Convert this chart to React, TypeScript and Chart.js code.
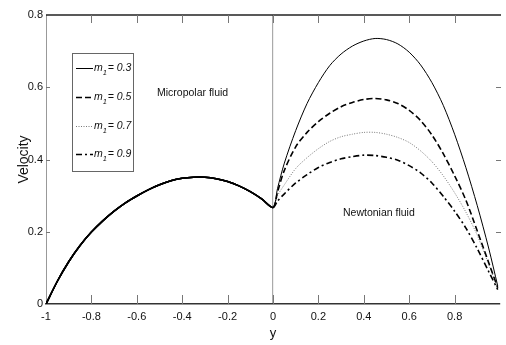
import React, { useEffect, useRef } from "react";
import { Chart, registerables } from "chart.js";

Chart.register(...registerables);

// Micropolar fluid region (-1 <= y <= 0): identical for every m1
const microX = [-1, -0.95, -0.9, -0.85, -0.8, -0.75, -0.7, -0.65, -0.6, -0.55, -0.5, -0.45, -0.4, -0.35, -0.3, -0.25, -0.2, -0.15, -0.1, -0.05, 0];
const microV = [0, 0.063, 0.117, 0.162, 0.199, 0.23, 0.257, 0.28, 0.299, 0.316, 0.33, 0.341, 0.348, 0.351, 0.351, 0.347, 0.339, 0.327, 0.311, 0.291, 0.267];

// Newtonian fluid region (0 <= y <= 1)
const newtX = [0, 0.02, 0.05, 0.1, 0.15, 0.2, 0.25, 0.3, 0.35, 0.4, 0.45, 0.5, 0.55, 0.6, 0.65, 0.7, 0.75, 0.8, 0.85, 0.9, 0.95, 0.99];
const m03 = [0.267, 0.32, 0.39, 0.48, 0.555, 0.613, 0.66, 0.692, 0.714, 0.728, 0.735, 0.732, 0.72, 0.697, 0.662, 0.613, 0.55, 0.47, 0.377, 0.272, 0.155, 0.05];
const m05 = [0.267, 0.31, 0.37, 0.435, 0.475, 0.505, 0.528, 0.546, 0.558, 0.566, 0.569, 0.565, 0.555, 0.536, 0.508, 0.468, 0.416, 0.355, 0.287, 0.202, 0.115, 0.045];
const m07 = [0.267, 0.3, 0.33, 0.375, 0.405, 0.43, 0.45, 0.463, 0.47, 0.475, 0.475, 0.47, 0.461, 0.447, 0.424, 0.394, 0.355, 0.308, 0.254, 0.19, 0.11, 0.045];
const m09 = [0.267, 0.285, 0.305, 0.335, 0.358, 0.378, 0.392, 0.402, 0.408, 0.412, 0.411, 0.406, 0.398, 0.383, 0.363, 0.335, 0.298, 0.257, 0.21, 0.153, 0.09, 0.04];

const seriesLabels = ["0.3", "0.5", "0.7", "0.9"];
const seriesValues = [m03, m05, m07, m09];
const seriesColors = ["#000000", "#000000", "#777777", "#000000"];
const seriesWidths = [1, 1.6, 1, 1.6];
const seriesDash: number[][] = [[], [6, 3], [1, 1.5], [6, 3, 2, 3]];

const xTicks = [-1, -0.8, -0.6, -0.4, -0.2, 0, 0.2, 0.4, 0.6, 0.8];
const yTicks = [0, 0.2, 0.4, 0.6, 0.8];

const FONT = "'Liberation Sans', Arial, sans-serif";

function buildPoints(vals: number[]) {
  const pts = microX.map((x, i) => ({ x, y: microV[i] }));
  newtX.forEach((x, i) => {
    if (i > 0) pts.push({ x, y: vals[i] });
  });
  return pts;
}

const decorPlugin = {
  id: "decor",
  afterDraw(chart: any) {
    const { ctx, chartArea } = chart;
    const { left, right, top, bottom } = chartArea;
    const xs = chart.scales.x;
    const ys = chart.scales.y;
    ctx.save();
    // top frame line
    ctx.strokeStyle = "#222";
    ctx.lineWidth = 1.5;
    ctx.beginPath();
    ctx.moveTo(left, top);
    ctx.lineTo(right + 1, top);
    ctx.stroke();
    // inward ticks
    ctx.strokeStyle = "#777";
    ctx.lineWidth = 1;
    xTicks.forEach((v) => {
      if (v === -1) return;
      const px = Math.round(xs.getPixelForValue(v)) + 0.5;
      ctx.beginPath();
      ctx.moveTo(px, bottom);
      ctx.lineTo(px, bottom - 9);
      ctx.moveTo(px, top);
      ctx.lineTo(px, top + 8);
      ctx.stroke();
    });
    yTicks.forEach((v) => {
      if (v === 0 || v === 0.8) return;
      const py = Math.round(ys.getPixelForValue(v)) + 0.5;
      ctx.beginPath();
      ctx.moveTo(left, py);
      ctx.lineTo(left + 4, py);
      ctx.moveTo(right - 4, py);
      ctx.lineTo(right + 1, py);
      ctx.stroke();
    });
    // region labels
    ctx.fillStyle = "#111";
    ctx.font = `10.5px ${FONT}`;
    ctx.textAlign = "left";
    ctx.textBaseline = "middle";
    ctx.fillText("Micropolar fluid", 157, 93);
    ctx.fillText("Newtonian fluid", 343, 213);
    // legend box
    ctx.strokeStyle = "#666";
    ctx.lineWidth = 1;
    ctx.fillStyle = "#fff";
    ctx.fillRect(72.5, 53.5, 61, 118);
    ctx.strokeRect(72.5, 53.5, 61, 118);
    const rowY = [68, 97, 126, 154];
    seriesLabels.forEach((lab, i) => {
      const y = rowY[i];
      ctx.strokeStyle = seriesColors[i];
      ctx.lineWidth = seriesWidths[i];
      ctx.setLineDash(seriesDash[i]);
      ctx.beginPath();
      ctx.moveTo(76, y + 0.5);
      ctx.lineTo(93, y + 0.5);
      ctx.stroke();
      ctx.setLineDash([]);
      ctx.fillStyle = "#111";
      ctx.textBaseline = "middle";
      ctx.font = `italic 10.5px ${FONT}`;
      ctx.fillText("m", 94, y);
      const mw = ctx.measureText("m").width;
      ctx.font = `italic 7.5px ${FONT}`;
      ctx.fillText("1", 94 + mw, y + 5);
      ctx.font = `italic 10.5px ${FONT}`;
      ctx.fillText("= " + lab, 94 + mw + 5, y);
    });
    ctx.restore();
  },
};

export default function App() {
  const ref = useRef<HTMLCanvasElement | null>(null);
  useEffect(() => {
    if (!ref.current) return;
    const chart = new Chart(ref.current, {
      type: "line",
      data: {
        datasets: seriesLabels.map((lab, i) => ({
          label: "m1 = " + lab,
          data: buildPoints(seriesValues[i]),
          borderColor: seriesColors[i],
          borderWidth: seriesWidths[i],
          borderDash: seriesDash[i],
          pointRadius: 0,
          tension: 0.3,
          fill: false,
          segment: {
            borderDash: (c: any) => (c.p1.parsed.x <= 0 ? [] : undefined),
            borderWidth: (c: any) => (c.p1.parsed.x <= 0 ? 1.5 : undefined),
            borderColor: (c: any) => (c.p1.parsed.x <= 0 ? "#000000" : undefined),
          },
        })),
      },
      plugins: [decorPlugin],
      options: {
        animation: false,
        responsive: false,
        maintainAspectRatio: false,
        layout: { padding: { top: 15, right: 1, left: 0, bottom: 0 } },
        plugins: { legend: { display: false }, tooltip: { enabled: false } },
        scales: {
          x: {
            type: "linear",
            min: -1,
            max: 1,
            afterFit: (s: any) => { s.height = 41; },
            afterBuildTicks: (s: any) => { s.ticks = [...xTicks, 1].map((v) => ({ value: v })); },
            border: { color: "#333", width: 1.5 },
            grid: {
              drawTicks: false,
              color: (c: any) => (c.tick && Math.abs(c.tick.value) < 1e-9 ? "#aaaaaa" : "rgba(0,0,0,0)"),
              lineWidth: 1.2,
            },
            ticks: {
              padding: 6,
              color: "#111",
              font: { family: FONT, size: 11 },
              maxRotation: 0,
              autoSkip: false,
              callback: (v: any) => (Math.abs(v - 1) < 1e-9 ? "" : String(Number(Number(v).toFixed(1)))),
            },
            title: { display: true, text: "y", color: "#111", font: { family: FONT, size: 13 }, padding: { top: 0, bottom: 4 } },
          },
          y: {
            type: "linear",
            min: 0,
            max: 0.8,
            afterFit: (s: any) => { s.width = 46; },
            afterBuildTicks: (s: any) => { s.ticks = yTicks.map((v) => ({ value: v })); },
            border: { color: "#999", width: 1 },
            grid: { display: false, drawTicks: false },
            ticks: {
              padding: 3,
              color: "#111",
              font: { family: FONT, size: 11 },
              callback: (v: any) => String(Number(Number(v).toFixed(1))),
            },
            title: { display: true, text: "Velocity", color: "#111", font: { family: FONT, size: 14 }, padding: { top: 16, bottom: 0 } },
          },
        },
      },
    });
    return () => chart.destroy();
  }, []);
  return (
    <div style={{ position: "absolute", left: 0, top: 0, width: 506, height: 345, overflow: "hidden", background: "#fff" }}>
      <canvas ref={ref} width={506} height={345} style={{ display: "block" }} />
    </div>
  );
}
